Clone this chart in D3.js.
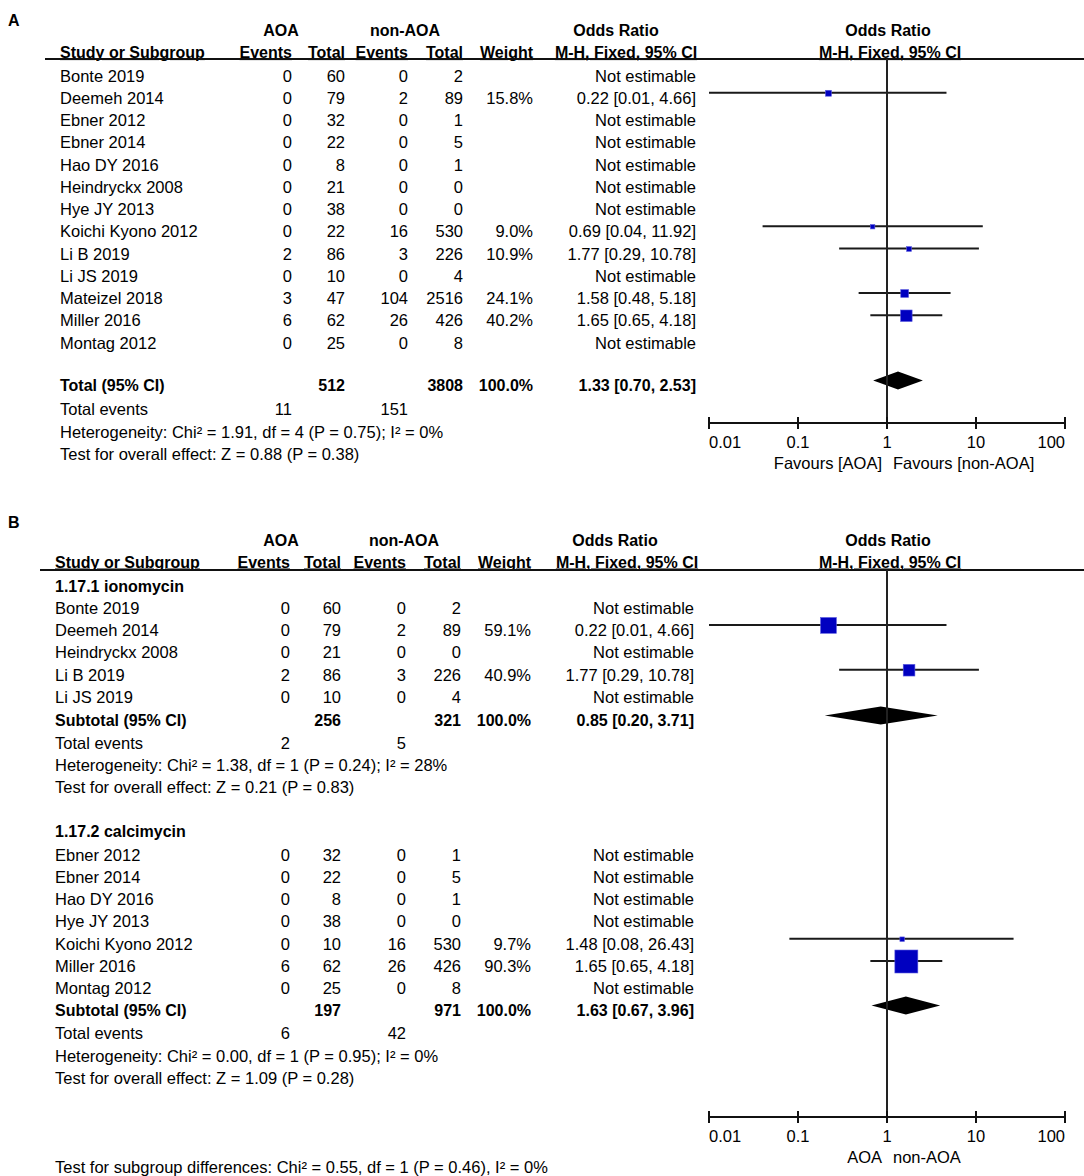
<!DOCTYPE html>
<html><head><meta charset="utf-8">
<script src="https://cdn.jsdelivr.net/npm/d3@7"></script>
<style>
html,body{margin:0;padding:0;background:#fff;}
text{font-family:"Liberation Sans",Arial,sans-serif;font-size:16.5px;fill:#000;}
.b{font-weight:bold;font-size:16px;}
.u{text-decoration:underline;}
</style></head>
<body>
<svg id="c" width="1084" height="1176"></svg>
<script>
// ---------- Panel A data ----------
const studyA = ["Bonte 2019","Deemeh 2014","Ebner 2012","Ebner 2014","Hao DY 2016","Heindryckx 2008","Hye JY 2013","Koichi Kyono 2012","Li B 2019","Li JS 2019","Mateizel 2018","Miller 2016","Montag 2012"];
const aoaEventsA = [0,0,0,0,0,0,0,0,2,0,3,6,0];
const aoaTotalA  = [60,79,32,22,8,21,38,22,86,10,47,62,25];
const nonEventsA = [0,2,0,0,0,0,0,16,3,0,104,26,0];
const nonTotalA  = [2,89,1,5,1,0,0,530,226,4,2516,426,8];
const weightA    = [null,15.8,null,null,null,null,null,9.0,10.9,null,24.1,40.2,null];
const orA        = [null,0.22,null,null,null,null,null,0.69,1.77,null,1.58,1.65,null];
const loA        = [null,0.01,null,null,null,null,null,0.04,0.29,null,0.48,0.65,null];
const hiA        = [null,4.66,null,null,null,null,null,11.92,10.78,null,5.18,4.18,null];
const totalA = {aoaTotal:512, nonTotal:3808, weight:100.0, or:1.33, lo:0.70, hi:2.53, aoaEvents:11, nonEvents:151,
  het:"Heterogeneity: Chi² = 1.91, df = 4 (P = 0.75); I² = 0%", test:"Test for overall effect: Z = 0.88 (P = 0.38)"};

// ---------- Panel B data ----------
const groupNamesB = ["1.17.1 ionomycin","1.17.2 calcimycin"];
const studyB1 = ["Bonte 2019","Deemeh 2014","Heindryckx 2008","Li B 2019","Li JS 2019"];
const aoaEventsB1 = [0,0,0,2,0];
const aoaTotalB1  = [60,79,21,86,10];
const nonEventsB1 = [0,2,0,3,0];
const nonTotalB1  = [2,89,0,226,4];
const weightB1    = [null,59.1,null,40.9,null];
const orB1        = [null,0.22,null,1.77,null];
const loB1        = [null,0.01,null,0.29,null];
const hiB1        = [null,4.66,null,10.78,null];
const subB1 = {aoaTotal:256, nonTotal:321, weight:100.0, or:0.85, lo:0.20, hi:3.71, aoaEvents:2, nonEvents:5,
  het:"Heterogeneity: Chi² = 1.38, df = 1 (P = 0.24); I² = 28%", test:"Test for overall effect: Z = 0.21 (P = 0.83)"};

const studyB2 = ["Ebner 2012","Ebner 2014","Hao DY 2016","Hye JY 2013","Koichi Kyono 2012","Miller 2016","Montag 2012"];
const aoaEventsB2 = [0,0,0,0,0,6,0];
const aoaTotalB2  = [32,22,8,38,10,62,25];
const nonEventsB2 = [0,0,0,0,16,26,0];
const nonTotalB2  = [1,5,1,0,530,426,8];
const weightB2    = [null,null,null,null,9.7,90.3,null];
const orB2        = [null,null,null,null,1.48,1.65,null];
const loB2        = [null,null,null,null,0.08,0.65,null];
const hiB2        = [null,null,null,null,26.43,4.18,null];
const subB2 = {aoaTotal:197, nonTotal:971, weight:100.0, or:1.63, lo:0.67, hi:3.96, aoaEvents:6, nonEvents:42,
  het:"Heterogeneity: Chi² = 0.00, df = 1 (P = 0.95); I² = 0%", test:"Test for overall effect: Z = 1.09 (P = 0.28)"};
const subgroupTestB = "Test for subgroup differences: Chi² = 0.55, df = 1 (P = 0.46), I² = 0%";

const tickValues = [0.01,0.1,1,10,100];
const tickLabels = ["0.01","0.1","1","10","100"];

// ---------- drawing ----------
const svg = d3.select("#c");
const x = d3.scaleLog().domain([0.01,100]).range([709,1065]);
const sq = d3.scaleLinear().domain([0,100]).range([2.3,25.2]);
const BL = 5.5;   // baseline offset from row centre
const LO = 5.5;   // CI line offset above row centre
const fmtW = d3.format(".1f");
const fmtOR = v => v.toFixed(2);

function txt(g, xx, y, s, anchor, cls){
  return g.append("text").attr("x",xx).attr("y",y+BL).attr("text-anchor",anchor||"start").attr("class",cls||"").text(s);
}

function header(g, L, yTop){
  txt(g, L.aoaC, yTop, "AOA", "middle", "b");
  txt(g, L.nonC, yTop, "non-AOA", "middle", "b");
  txt(g, L.orC1, yTop, "Odds Ratio", "middle", "b");
  txt(g, 888, yTop, "Odds Ratio", "middle", "b");
  const y2 = yTop + 22;
  txt(g, L.name, y2, "Study or Subgroup", "start", "b u");
  txt(g, L.c[0], y2, "Events", "end", "b u");
  txt(g, L.c[1], y2, "Total", "end", "b u");
  txt(g, L.c[2], y2, "Events", "end", "b u");
  txt(g, L.c[3], y2, "Total", "end", "b u");
  txt(g, L.c[4], y2, "Weight", "end", "b u");
  txt(g, L.orC2, y2, "M-H, Fixed, 95% CI", "middle", "b u");
  txt(g, 890, y2, "M-H, Fixed, 95% CI", "middle", "b u");
}

function studyRows(g, L, ys, names, ae, at, ne, nt, w, or, lo, hi){
  names.forEach((n,i)=>{
    const y = ys[i];
    txt(g, L.name, y, n);
    txt(g, L.c[0], y, ae[i], "end");
    txt(g, L.c[1], y, at[i], "end");
    txt(g, L.c[2], y, ne[i], "end");
    txt(g, L.c[3], y, nt[i], "end");
    if (w[i] != null){
      txt(g, L.c[4], y, fmtW(w[i])+"%", "end");
      txt(g, L.c[5], y, `${fmtOR(or[i])} [${fmtOR(lo[i])}, ${fmtOR(hi[i])}]`, "end");
      const yl = y - LO;
      g.append("line").attr("x1",x(lo[i])).attr("x2",x(hi[i])).attr("y1",yl).attr("y2",yl)
        .attr("stroke","#1a1a1a").attr("stroke-width",2);
      const s = sq(w[i]);
      g.append("rect").attr("x",x(or[i])-s/2).attr("y",yl-s/2+0.5).attr("width",s).attr("height",s)
        .attr("fill","#0000c0").attr("stroke","#5a5ae0").attr("stroke-width",0.6);
    } else {
      txt(g, L.c[5], y, "Not estimable", "end");
    }
  });
}

function summary(g, L, ys, S, label){
  const y = ys[0];
  txt(g, L.name, y, label, "start", "b");
  txt(g, L.c[1], y, S.aoaTotal, "end", "b");
  txt(g, L.c[3], y, S.nonTotal, "end", "b");
  txt(g, L.c[4], y, fmtW(S.weight)+"%", "end", "b");
  txt(g, L.c[5], y, `${fmtOR(S.or)} [${fmtOR(S.lo)}, ${fmtOR(S.hi)}]`, "end", "b");
  const yd = y - 4.5, h = 9;
  g.append("path").attr("d", `M${x(S.lo)},${yd} L${x(S.or)},${yd-h} L${x(S.hi)},${yd} L${x(S.or)},${yd+h} Z`).attr("fill","#000");
  txt(g, L.name, ys[1], "Total events");
  txt(g, L.c[0], ys[1], S.aoaEvents, "end");
  txt(g, L.c[2], ys[1], S.nonEvents, "end");
  txt(g, L.name, ys[2], S.het);
  txt(g, L.name, ys[3], S.test);
}

function axis(g, yTop, yAxis, labels){
  g.append("line").attr("x1",x(1)).attr("x2",x(1)).attr("y1",yTop).attr("y2",yAxis).attr("stroke","#222").attr("stroke-width",2);
  g.append("line").attr("x1",x(0.01)).attr("x2",x(100)).attr("y1",yAxis).attr("y2",yAxis).attr("stroke","#111").attr("stroke-width",2);
  tickValues.forEach((v,i)=>{
    g.append("line").attr("x1",x(v)).attr("x2",x(v)).attr("y1",yAxis-6).attr("y2",yAxis+6).attr("stroke","#111").attr("stroke-width",2);
    const anchor = i===0 ? "start" : (i===tickValues.length-1 ? "end" : "middle");
    txt(g, x(v), yAxis+19, tickLabels[i], anchor);
  });
  g.append("text").attr("x",x(1)-5).attr("y",yAxis+40+BL).attr("text-anchor","end").text(labels[0]);
  g.append("text").attr("x",x(1)+6).attr("y",yAxis+40+BL).attr("text-anchor","start").text(labels[1]);
}

// Panel A
const gA = svg.append("g");
const LA = {name:60, aoaC:281, nonC:405, orC1:616, orC2:626, c:[292,345,408,463,533,696]};
gA.append("text").attr("x",8).attr("y",26).attr("class","b").text("A");
header(gA, LA, 30);
gA.append("line").attr("x1",45).attr("x2",1084).attr("y1",59).attr("y2",59).attr("stroke","#111").attr("stroke-width",2);
const rowsA = studyA.map((d,i)=>76 + i*22.25);
studyRows(gA, LA, rowsA, studyA, aoaEventsA, aoaTotalA, nonEventsA, nonTotalA, weightA, orA, loA, hiA);
summary(gA, LA, [385,409,432,454], totalA, "Total (95% CI)");
axis(gA, 59, 423, ["Favours [AOA]","Favours [non-AOA]"]);

// Panel B
const gB = svg.append("g");
const LB = {name:55, aoaC:281, nonC:404, orC1:615, orC2:627, c:[290,341,406,461,531,694]};
gB.append("text").attr("x",8).attr("y",528).attr("class","b").text("B");
header(gB, LB, 540);
gB.append("line").attr("x1",40).attr("x2",1084).attr("y1",570).attr("y2",570).attr("stroke","#111").attr("stroke-width",2);
txt(gB, LB.name, 586, groupNamesB[0], "start", "b");
studyRows(gB, LB, studyB1.map((d,i)=>608 + i*22.4), studyB1, aoaEventsB1, aoaTotalB1, nonEventsB1, nonTotalB1, weightB1, orB1, loB1, hiB1);
summary(gB, LB, [720,743,765,787], subB1, "Subtotal (95% CI)");
txt(gB, LB.name, 831, groupNamesB[1], "start", "b");
studyRows(gB, LB, studyB2.map((d,i)=>855 + i*22.3), studyB2, aoaEventsB2, aoaTotalB2, nonEventsB2, nonTotalB2, weightB2, orB2, loB2, hiB2);
summary(gB, LB, [1010,1033,1056,1078], subB2, "Subtotal (95% CI)");
axis(gB, 570, 1117, ["AOA","non-AOA"]);
txt(gB, LB.name, 1167, subgroupTestB);
</script>
</body></html>
